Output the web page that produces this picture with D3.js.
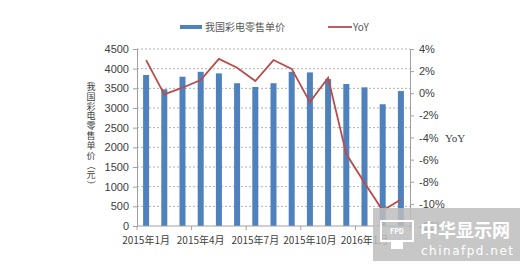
<!DOCTYPE html>
<html lang="zh">
<head>
<meta charset="UTF-8">
<title>我国彩电零售单价</title>
<script src="https://d3js.org/d3.v7.min.js"></script>
<style>
  body { margin: 0; background: #fff; }
  svg { display: block; }
  text { font-family: "Noto Sans CJK SC", "Liberation Sans", sans-serif; fill: #404040; }
</style>
</head>
<body>
<div id="chart"></div>
<script>
  // 数据
  var months = ["2015年1月","2015年2月","2015年3月","2015年4月","2015年5月","2015年6月",
                "2015年7月","2015年8月","2015年9月","2015年10月","2015年11月","2015年12月",
                "2016年1月","2016年2月","2016年3月"];
  var price = [3840, 3475, 3795, 3920, 3880, 3630, 3535, 3630, 3920, 3905, 3735, 3610, 3525, 3095, 3430];
  var yoy = [3.0, -0.1, 0.5, 1.2, 3.1, 2.3, 1.1, 3.0, 2.2, -0.8, 1.4, -5.5, -8.1, -10.6, -9.6];
  var leftTicks = [0, 500, 1000, 1500, 2000, 2500, 3000, 3500, 4000, 4500];
  var rightTicks = [4, 2, 0, -2, -4, -6, -8, -10, -12];
  var xLabelIdx = [0, 3, 6, 9, 12];

  var W = 525, H = 266;
  var mLeft = 137, mRight = 410, mTop = 49, mBottom = 226;

  var svg = d3.select("#chart").append("svg").attr("width", W).attr("height", H);

  var x = d3.scaleBand().domain(months).range([mLeft, mRight]).paddingInner(0.67).paddingOuter(0.335);
  var xb = d3.scaleBand().domain(months).range([mLeft, mRight]);
  var y = d3.scaleLinear().domain([0, 4500]).range([mBottom, mTop]);
  var y2 = d3.scaleLinear().domain([-12, 4]).range([mBottom, mTop]);

  // 网格线
  svg.append("g").selectAll("line").data(leftTicks.slice(1)).enter().append("line")
    .attr("x1", mLeft).attr("x2", mRight)
    .attr("y1", d => y(d)).attr("y2", d => y(d))
    .attr("stroke", "#b0b0b0").attr("stroke-dasharray", "2,2").attr("stroke-width", 1);

  // 柱子
  svg.append("g").selectAll("rect").data(price).enter().append("rect")
    .attr("x", (d, i) => x(months[i]))
    .attr("width", x.bandwidth())
    .attr("y", d => y(d))
    .attr("height", d => mBottom - y(d))
    .attr("fill", "#4f81bd");

  // 左轴
  var yAxis = d3.axisLeft(y).tickValues(leftTicks).tickSize(4).tickPadding(4).tickFormat(d3.format("d"));
  var gy = svg.append("g").attr("transform", "translate(" + mLeft + ",0)").call(yAxis);
  gy.select(".domain").attr("stroke", "#a0a0a0");
  gy.selectAll(".tick line").attr("stroke", "#a0a0a0");
  gy.selectAll("text").style("font-size", "11px").attr("fill", "#404040")
    .style("font-family", "Liberation Sans, sans-serif");

  // 右轴
  var y2Axis = d3.axisRight(y2).tickValues(rightTicks).tickSize(4).tickPadding(5)
    .tickFormat(d => d + "%");
  var gy2 = svg.append("g").attr("transform", "translate(" + mRight + ",0)").call(y2Axis);
  gy2.select(".domain").attr("stroke", "#a0a0a0");
  gy2.selectAll(".tick line").attr("stroke", "#a0a0a0");
  gy2.selectAll("text").style("font-size", "11px").attr("fill", "#404040")
    .style("font-family", "Liberation Sans, sans-serif");

  // 横轴
  var gx = svg.append("g").attr("transform", "translate(0," + mBottom + ")");
  gx.append("line").attr("x1", mLeft).attr("x2", mRight).attr("stroke", "#a0a0a0");
  gx.selectAll(".tk").data(d3.range(0, 16, 3)).enter().append("line")
    .attr("x1", d => mLeft + d * xb.step()).attr("x2", d => mLeft + d * xb.step())
    .attr("y1", 0).attr("y2", 4).attr("stroke", "#a0a0a0");
  gx.selectAll(".lb").data(xLabelIdx).enter().append("text")
    .attr("x", d => xb(months[d]) + xb.bandwidth() / 2)
    .attr("y", 18)
    .attr("text-anchor", "middle")
    .style("font-size", "10px")
    .text(d => months[d]);

  // 折线
  var line = d3.line()
    .x((d, i) => xb(months[i]) + xb.bandwidth() / 2)
    .y(d => y2(d));
  svg.append("path").datum(yoy).attr("d", line)
    .attr("fill", "none").attr("stroke", "#b84c4c").attr("stroke-width", 1.8);

  // 左轴标题
  var title = "我国彩电零售单价（元）".split("");
  svg.append("g").selectAll("text").data(title).enter().append("text")
    .attr("x", 91).attr("y", (d, i) => 90 + i * 9.8)
    .attr("text-anchor", "middle")
    .style("font-size", "9px")
    .attr("transform", (d, i) => (d === "（" || d === "）") ? "rotate(90,91," + (87 + i * 9.8) + ")" : null)
    .text(d => d);

  // 右轴标题
  svg.append("text").attr("x", 445).attr("y", 142)
    .style("font-size", "11px").style("font-family", "Liberation Serif, serif")
    .text("YoY");

  // 图例
  svg.append("rect").attr("x", 180).attr("y", 25).attr("width", 22).attr("height", 4).attr("fill", "#4f81bd");
  svg.append("text").attr("x", 205).attr("y", 31).style("font-size", "10px").style("fill", "#595959").text("我国彩电零售单价");
  svg.append("line").attr("x1", 328).attr("x2", 352).attr("y1", 27).attr("y2", 27)
    .attr("stroke", "#b84c4c").attr("stroke-width", 1.8);
  svg.append("text").attr("x", 353).attr("y", 31).style("font-size", "10px").style("fill", "#595959").text("YoY");

  // 水印
  var wm = svg.append("g");
  wm.append("rect").attr("x", 373).attr("y", 208).attr("width", 147).attr("height", 53)
    .attr("fill", "#bdbdbd").attr("opacity", 0.85);
  wm.append("rect").attr("x", 381).attr("y", 221).attr("width", 32).attr("height", 20)
    .attr("fill", "none").attr("stroke", "#fff").attr("stroke-width", 2);
  wm.append("rect").attr("x", 391).attr("y", 241).attr("width", 12).attr("height", 8).attr("fill", "#fff");
  wm.append("text").attr("x", 397).attr("y", 234).attr("text-anchor", "middle")
    .style("font-size", "7px").style("font-weight", "bold").style("fill", "#fff").text("FPD");
  wm.append("text").attr("x", 420).attr("y", 237)
    .style("font-size", "18px").style("font-weight", "bold").style("fill", "#fff").text("中华显示网");
  wm.append("text").attr("x", 421).attr("y", 255)
    .style("font-size", "12px").style("letter-spacing", "1.5px").style("fill", "#fff")
    .style("font-family", "DejaVu Sans, sans-serif").text("chinafpd.net");
</script>
</body>
</html>
